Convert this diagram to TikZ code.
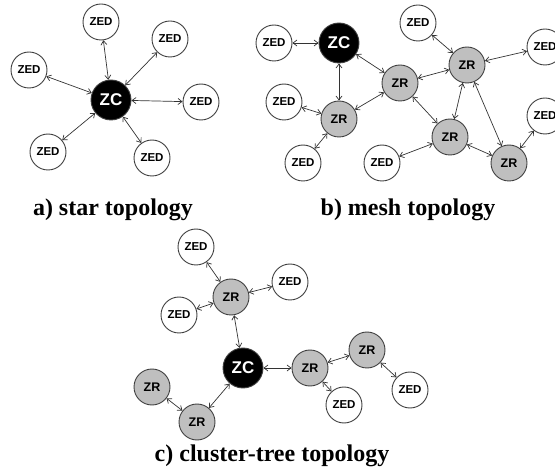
\documentclass[tikz,border=0pt]{standalone}
\usepackage{fontspec}
\setmainfont{Liberation Serif}
\setsansfont{Liberation Sans}
\usetikzlibrary{arrows.meta}
\begin{document}
\begin{tikzpicture}[x=1pt,y=-1pt,
  base/.style={circle, draw=black!75, line width=0.9pt, minimum size=36pt, inner sep=0pt},
  zed/.style={base, fill=white, font=\sffamily\bfseries\fontsize{11.5}{12}\selectfont},
  zr/.style={base, fill=black!25, font=\sffamily\bfseries\fontsize{12.5}{13}\selectfont},
  zc/.style={base, fill=black, text=white, minimum size=40pt, font=\sffamily\bfseries\fontsize{17}{18}\selectfont},
  link/.style={{Straight Barb[length=4pt,width=6pt]}-{Straight Barb[length=4pt,width=6pt]}, line width=0.7pt, draw=black!80},
  captext/.style={font=\bfseries\fontsize{24}{28}\selectfont, anchor=base}
]
\useasboundingbox (0,0) rectangle (555,473);
% ---------- star ----------
\node[zc]  (s-zc) at (111,100) {ZC};
\node[zed] (s-1) at (101,22) {ZED};
\node[zed] (s-2) at (170,39) {ZED};
\node[zed] (s-3) at (29,70) {ZED};
\node[zed] (s-4) at (201,102) {ZED};
\node[zed] (s-5) at (48,152) {ZED};
\node[zed] (s-6) at (152,158) {ZED};
\foreach \n in {1,...,6} \draw[link] (s-zc) -- (s-\n);
\node[captext] (capa) at (113,216) {a) star topology};
% ---------- mesh ----------
\node[zc]  (m-zc) at (339,43) {ZC};
\node[zed] (m-e1) at (274,43) {ZED};
\node[zed] (m-e2) at (418,23) {ZED};
\node[zr]  (m-r1) at (467,65) {ZR};
\node[zed] (m-e3) at (545,47) {ZED};
\node[zr]  (m-r2) at (400,83) {ZR};
\node[zed] (m-e4) at (284,102) {ZED};
\node[zr]  (m-r3) at (339,119) {ZR};
\node[zed] (m-e5) at (545,116) {ZED};
\node[zr]  (m-r4) at (450,137) {ZR};
\node[zed] (m-e6) at (303,163) {ZED};
\node[zed] (m-e7) at (382,163) {ZED};
\node[zr]  (m-r5) at (509,163) {ZR};
\draw[link] (m-e1) -- (m-zc);
\draw[link] (m-zc) -- (m-r3);
\draw[link] (m-zc) -- (m-r2);
\draw[link] (m-e4) -- (m-r3);
\draw[link] (m-r3) -- (m-e6);
\draw[link] (m-r3) -- (m-r2);
\draw[link] (m-r2) -- (m-r1);
\draw[link] (m-r2) -- (m-r4);
\draw[link] (m-e2) -- (m-r1);
\draw[link] (m-r1) -- (m-e3);
\draw[link] (m-r1) -- (m-r4);
\draw[link] (m-r1) -- (m-r5);
\draw[link] (m-r4) -- (m-e7);
\draw[link] (m-r4) -- (m-r5);
\draw[link] (m-e5) -- (m-r5);
\node[captext] (capb) at (408,216) {b) mesh topology};
% ---------- cluster tree ----------
\node[zed] (c-e1) at (196,247) {ZED};
\node[zr]  (c-r1) at (231,297) {ZR};
\node[zed] (c-e2) at (290,282) {ZED};
\node[zed] (c-e3) at (179,315) {ZED};
\node[zc]  (c-zc) at (243,368) {ZC};
\node[zr]  (c-r2) at (310,368) {ZR};
\node[zr]  (c-r3) at (367,350) {ZR};
\node[zed] (c-e4) at (410,390) {ZED};
\node[zed] (c-e5) at (344,405) {ZED};
\node[zr]  (c-r4) at (152,387) {ZR};
\node[zr]  (c-r5) at (197,422) {ZR};
\draw[link] (c-e1) -- (c-r1);
\draw[link] (c-r1) -- (c-e2);
\draw[link] (c-r1) -- (c-e3);
\draw[link] (c-r1) -- (c-zc);
\draw[link] (c-zc) -- (c-r2);
\draw[link] (c-r2) -- (c-r3);
\draw[link] (c-r3) -- (c-e4);
\draw[link] (c-r2) -- (c-e5);
\draw[link] (c-zc) -- (c-r5);
\draw[link] (c-r5) -- (c-r4);
\node[captext] (capc) at (272,461) {c) cluster-tree topology};
\end{tikzpicture}
\end{document}
